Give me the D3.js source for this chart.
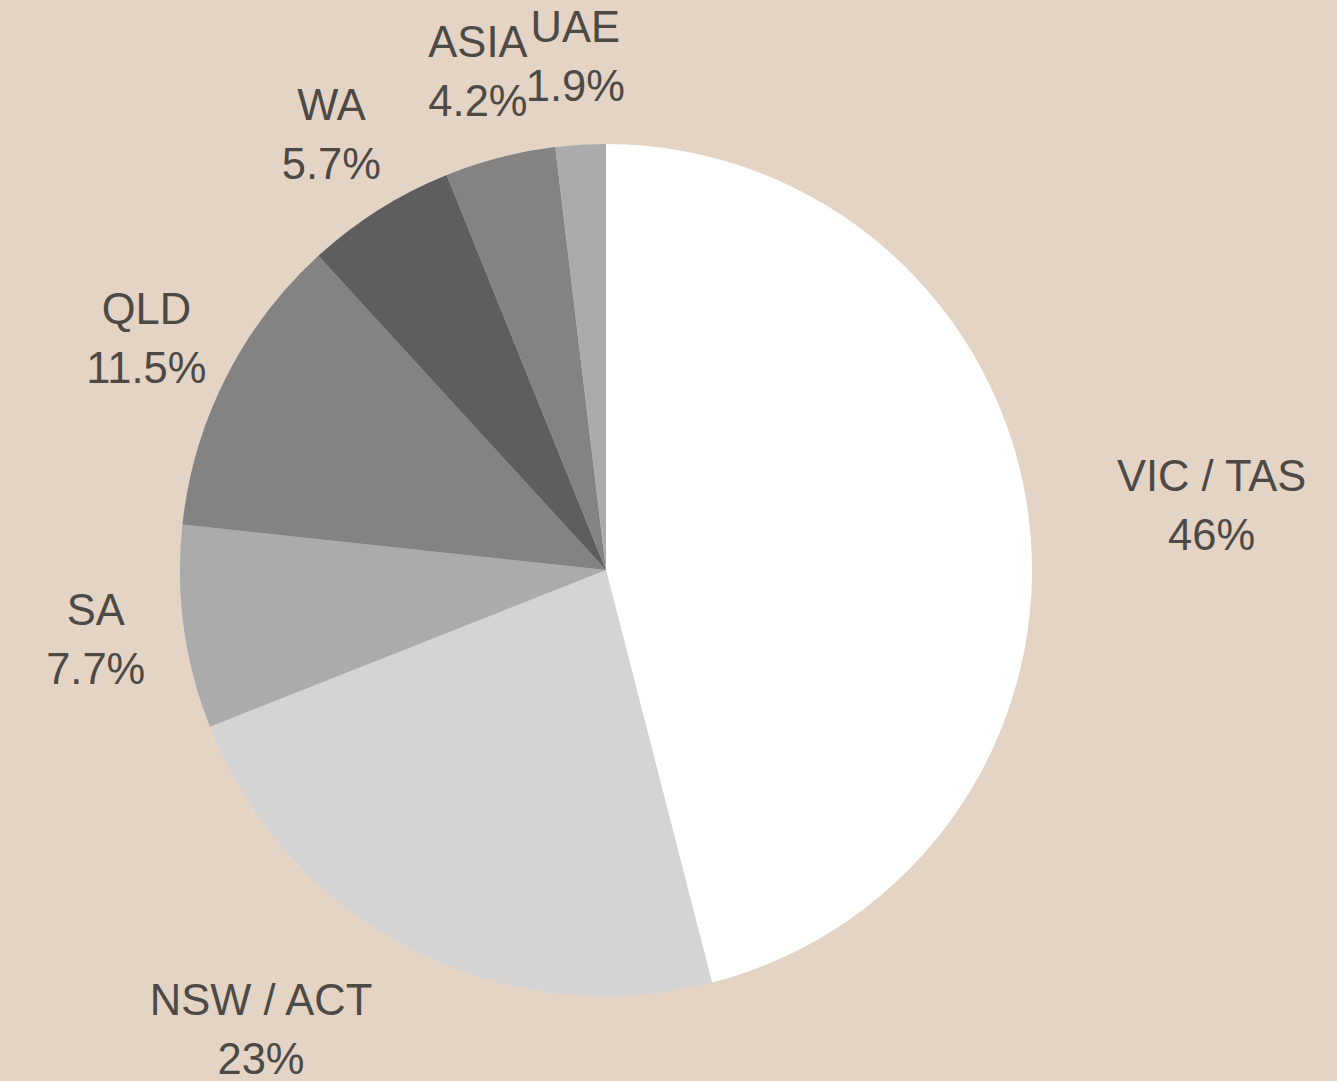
<!DOCTYPE html>
<html>
<head>
<meta charset="utf-8">
<script src="https://cdn.jsdelivr.net/npm/d3@7"></script>
<style>
    html, body { margin: 0; padding: 0; background: #e3d4c6; }
    svg { display: block; }
</style>
</head>
<body>
<svg id="chart"></svg>
<script>
// data, clockwise from 12 o'clock
const regions = ["VIC / TAS", "NSW / ACT", "SA", "QLD", "WA", "ASIA", "UAE"];
const shares = [46, 23, 7.7, 11.5, 5.7, 4.2, 1.9];
const shareLabels = ["46%", "23%", "7.7%", "11.5%", "5.7%", "4.2%", "1.9%"];
const sliceColors = ["#ffffff", "#d4d4d4", "#ababab", "#838383", "#5e5e5e", "#838383", "#ababab"];

class PieChart {
    constructor(svg, width = 1337, height = 1081) {
        this.svg = d3.select(svg);
        this.width = width;
        this.height = height;
        this.cx = 606;
        this.cy = 570;
        this.radius = 426;
        this.labelRadius = 515;
        this.fontSize = 43.5;
        this.lineGap = 59;
    }

    initialize() {
        this.svg.attr("width", this.width).attr("height", this.height);

        this.svg.append("rect")
            .attr("width", this.width)
            .attr("height", this.height)
            .attr("fill", "#e3d4c6");

        this.g = this.svg.append("g")
            .attr("transform", `translate(${this.cx}, ${this.cy})`);

        this.color = d3.scaleOrdinal().domain(d3.range(regions.length)).range(sliceColors);

        this.pie = d3.pie()
            .value(i => shares[i])
            .sort(null);

        this.arcs = this.pie(d3.range(regions.length));
    }

    drawSlices() {
        const arc = d3.arc().innerRadius(0).outerRadius(this.radius);

        this.g.selectAll(".slice")
            .data(this.arcs)
            .enter().append("path")
            .attr("class", "slice")
            .attr("d", arc)
            .attr("fill", d => this.color(d.data));
    }

    drawLabels() {
        const labelArc = d3.arc().innerRadius(this.labelRadius).outerRadius(this.labelRadius);

        const labels = this.g.selectAll(".label")
            .data(this.arcs)
            .enter().append("text")
            .attr("class", "label")
            .style("font-family", "'Liberation Sans', Arial, sans-serif")
            .style("font-size", this.fontSize + "px")
            .attr("fill", "#4d4a46")
            .attr("text-anchor", "middle");

        labels.append("tspan")
            .attr("class", "name")
            .text(d => regions[d.data]);
        labels.append("tspan")
            .attr("class", "value")
            .text(d => shareLabels[d.data]);

        const self = this;
        labels.each(function (d) {
            const [px, py] = labelArc.centroid(d);
            const text = d3.select(this);
            const w = Math.max(
                text.select(".name").node().getComputedTextLength(),
                text.select(".value").node().getComputedTextLength());
            const top = py - 44, bottom = py + 44;

            // push the whole label block sideways if its centred box would touch the pie
            const nx = Math.max(px - w / 2, Math.min(0, px + w / 2));
            const ny = Math.max(top, Math.min(0, bottom));
            let x = px;
            if (Math.hypot(nx, ny) < self.radius + 12) {
                x = px > 0 ? px + w / 2 : px - w / 2;
            }

            const base = py - 14;
            text.select(".name").attr("x", x).attr("y", base);
            text.select(".value").attr("x", x).attr("y", base + self.lineGap);
        });
    }
}

const chart = new PieChart("#chart");
chart.initialize();
chart.drawSlices();
chart.drawLabels();
</script>
</body>
</html>
